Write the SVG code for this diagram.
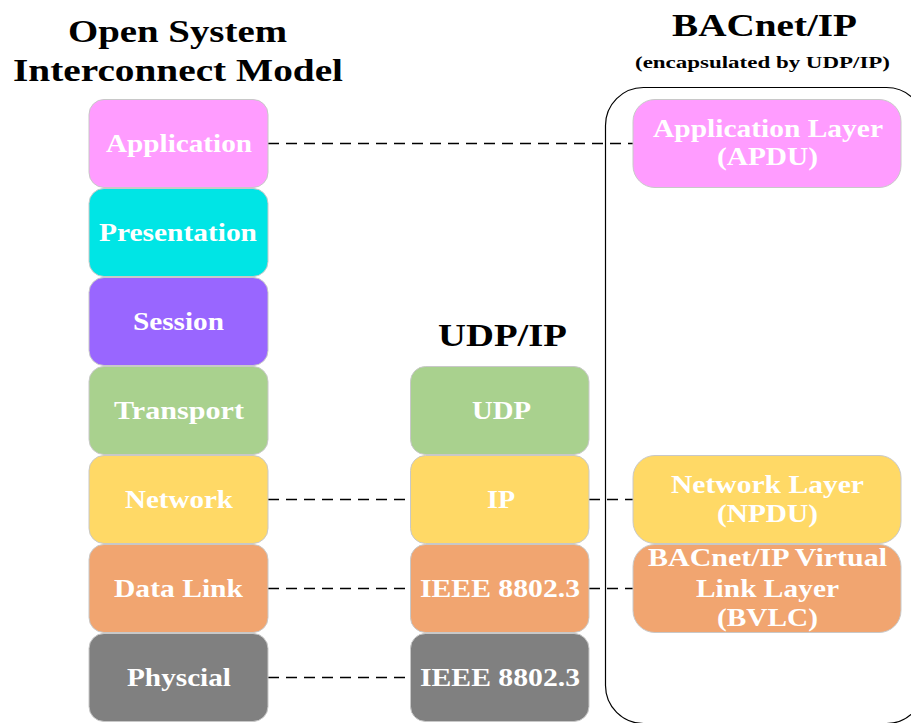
<svg xmlns="http://www.w3.org/2000/svg" width="911" height="723" viewBox="0 0 911 723">
<style>
.box{stroke:#c8c8c8;stroke-width:1}
.lbl{font-family:"Liberation Serif","Times New Roman",serif;font-weight:bold;font-size:26px;fill:#ffffff}
.ttl{font-family:"Liberation Serif","Times New Roman",serif;font-weight:bold;font-size:32px;fill:#000000}
.sub{font-family:"Liberation Serif","Times New Roman",serif;font-weight:bold;font-size:17px;fill:#000000}
.dash{stroke:#000000;stroke-width:1.5;stroke-dasharray:11 7;fill:none}
.app{fill:#ff9cff}.pre{fill:#00e5e5}.ses{fill:#9966ff}.tra{fill:#a9d18e}.net{fill:#ffd966}.dl{fill:#f1a570}.phy{fill:#808080}
</style>
<rect width="911" height="723" fill="#ffffff"/>
<g id="titles">
<text class="ttl" x="68" y="42" textLength="219" lengthAdjust="spacingAndGlyphs">Open System</text>
<text class="ttl" x="13" y="81" textLength="330" lengthAdjust="spacingAndGlyphs">Interconnect Model</text>
<text class="ttl" x="672" y="36" textLength="185" lengthAdjust="spacingAndGlyphs">BACnet/IP</text>
<text class="sub" x="635" y="68" textLength="255" lengthAdjust="spacingAndGlyphs">(encapsulated by UDP/IP)</text>
<text class="ttl" x="438" y="346" textLength="129" lengthAdjust="spacingAndGlyphs">UDP/IP</text>
</g>
<g id="bacnet-frame">
<rect x="605.5" y="87.5" width="319" height="636" rx="38" ry="38" fill="none" stroke="#000000" stroke-width="1.2"/>
</g>
<g id="connectors">
<line class="dash" x1="268" y1="143.5" x2="633" y2="143.5"/>
<line class="dash" x1="268" y1="499.5" x2="410.5" y2="499.5"/>
<line class="dash" x1="589" y1="499.5" x2="633" y2="499.5"/>
<line class="dash" x1="268" y1="588.5" x2="410.5" y2="588.5"/>
<line class="dash" x1="589" y1="588.5" x2="633" y2="588.5"/>
<line class="dash" x1="268" y1="677.5" x2="410.5" y2="677.5"/>
</g>
<g id="osi-application"><rect class="box app" x="89" y="99.5" width="179" height="88" rx="15"/><text class="lbl" x="106" y="152" textLength="146" lengthAdjust="spacingAndGlyphs">Application</text></g>
<g id="osi-presentation"><rect class="box pre" x="89" y="188.5" width="179" height="88" rx="15"/><text class="lbl" x="99" y="241" textLength="158" lengthAdjust="spacingAndGlyphs">Presentation</text></g>
<g id="osi-session"><rect class="box ses" x="89" y="277.5" width="179" height="88" rx="15"/><text class="lbl" x="133" y="330" textLength="91" lengthAdjust="spacingAndGlyphs">Session</text></g>
<g id="osi-transport"><rect class="box tra" x="89" y="366.5" width="179" height="88" rx="15"/><text class="lbl" x="114" y="419" textLength="130" lengthAdjust="spacingAndGlyphs">Transport</text></g>
<g id="osi-network"><rect class="box net" x="89" y="455.5" width="179" height="88" rx="15"/><text class="lbl" x="125" y="508" textLength="108" lengthAdjust="spacingAndGlyphs">Network</text></g>
<g id="osi-datalink"><rect class="box dl" x="89" y="544.5" width="179" height="88" rx="15"/><text class="lbl" x="114" y="597" textLength="129" lengthAdjust="spacingAndGlyphs">Data Link</text></g>
<g id="osi-physical"><rect class="box phy" x="89" y="633.5" width="179" height="88" rx="15"/><text class="lbl" x="127" y="686" textLength="104" lengthAdjust="spacingAndGlyphs">Physcial</text></g>
<g id="udp"><rect class="box tra" x="410.5" y="366.5" width="178.5" height="88" rx="15"/><text class="lbl" x="472" y="419" textLength="59" lengthAdjust="spacingAndGlyphs">UDP</text></g>
<g id="ip"><rect class="box net" x="410.5" y="455.5" width="178.5" height="88" rx="15"/><text class="lbl" x="487" y="508" textLength="28" lengthAdjust="spacingAndGlyphs">IP</text></g>
<g id="ieee-datalink"><rect class="box dl" x="410.5" y="544.5" width="178.5" height="88" rx="15"/><text class="lbl" x="420" y="597" textLength="160" lengthAdjust="spacingAndGlyphs">IEEE 8802.3</text></g>
<g id="ieee-physical"><rect class="box phy" x="410.5" y="633.5" width="178.5" height="88" rx="15"/><text class="lbl" x="420" y="686" textLength="160" lengthAdjust="spacingAndGlyphs">IEEE 8802.3</text></g>
<g id="bacnet-application"><rect class="box app" x="633" y="99.5" width="268" height="88" rx="22"/><text class="lbl" x="653" y="137" textLength="230" lengthAdjust="spacingAndGlyphs">Application Layer</text><text class="lbl" x="717" y="165" textLength="101" lengthAdjust="spacingAndGlyphs">(APDU)</text></g>
<g id="bacnet-network"><rect class="box net" x="633" y="455.5" width="268" height="88" rx="22"/><text class="lbl" x="671" y="493" textLength="193" lengthAdjust="spacingAndGlyphs">Network Layer</text><text class="lbl" x="717" y="522" textLength="101" lengthAdjust="spacingAndGlyphs">(NPDU)</text></g>
<g id="bacnet-bvlc"><rect class="box dl" x="633" y="544.5" width="268" height="88" rx="22"/><text class="lbl" x="648" y="566" textLength="239" lengthAdjust="spacingAndGlyphs">BACnet/IP Virtual</text><text class="lbl" x="696" y="597" textLength="143" lengthAdjust="spacingAndGlyphs">Link Layer</text><text class="lbl" x="717" y="626" textLength="101" lengthAdjust="spacingAndGlyphs">(BVLC)</text></g>
</svg>
